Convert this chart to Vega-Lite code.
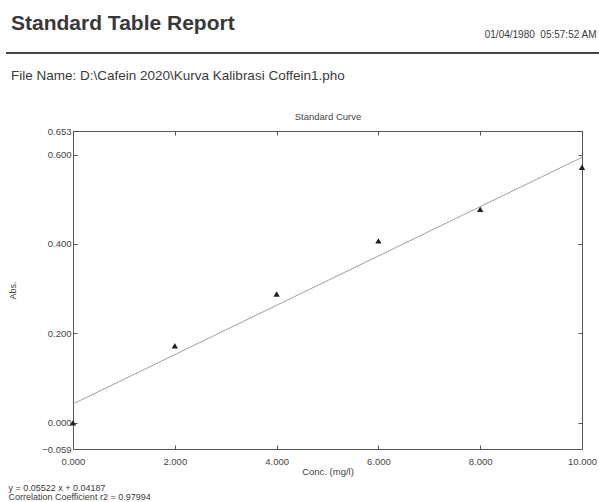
{
  "$schema": "https://vega.github.io/schema/vega-lite/v6.json",
  "width": 509,
  "height": 318,
  "autosize": {"type": "none"},
  "padding": {"left": 73, "top": 131, "right": 17, "bottom": 53},
  "background": "white",
  "config": {
    "font": "Liberation Sans",
    "view": {"stroke": null},
    "axis": {
      "grid": false,
      "labelFont": "Liberation Sans",
      "labelFontSize": 9.5,
      "labelColor": "#444444",
      "domainColor": "#555555",
      "tickColor": "#555555",
      "domainWidth": 1,
      "tickWidth": 1,
      "titleFont": "Liberation Sans",
      "titleFontWeight": "normal",
      "titleColor": "#444444",
      "titleFontSize": 9.5
    }
  },
  "title": {
    "text": "Standard Table Report",
    "subtitle": "File Name: D:\\Cafein 2020\\Kurva Kalibrasi Coffein1.pho",
    "anchor": "start",
    "frame": "bounds",
    "font": "Liberation Sans",
    "fontSize": 21,
    "fontWeight": "bold",
    "color": "#383838",
    "subtitleFont": "Liberation Sans",
    "subtitleFontSize": 13.5,
    "subtitleColor": "#3a3a3a",
    "subtitlePadding": 35,
    "offset": -53.5,
    "dx": 6
  },
  "datasets": {
    "standards": [
      {"conc": 0, "abs": 0.0},
      {"conc": 2, "abs": 0.172},
      {"conc": 4, "abs": 0.288},
      {"conc": 6, "abs": 0.407},
      {"conc": 8, "abs": 0.478},
      {"conc": 10, "abs": 0.572}
    ],
    "fit": [
      {"conc": 0, "abs": 0.04187},
      {"conc": 10, "abs": 0.59407}
    ],
    "separator": [{"line": "header"}]
  },
  "layer": [
    {
      "data": {"name": "standards"},
      "mark": {"type": "point", "shape": "triangle-up", "filled": true, "size": 40, "color": "#222222", "opacity": 1},
      "encoding": {
        "x": {
          "field": "conc", "type": "quantitative",
          "scale": {"domain": [0, 10], "nice": false, "zero": false},
          "axis": {"orient": "bottom", "values": [0, 2, 4, 6, 8, 10], "format": ".3f", "labelFlush": false, "tickSize": -4, "labelPadding": 11, "title": "Conc. (mg/l)", "titlePadding": 1}
        },
        "y": {
          "field": "abs", "type": "quantitative",
          "scale": {"domain": [-0.059, 0.653], "nice": false, "zero": false},
          "axis": {"orient": "left", "values": [-0.059, 0, 0.2, 0.4, 0.6, 0.653], "format": ".3f", "tickSize": -4, "labelPadding": 6, "title": "Abs.", "titleFontSize": 9, "titlePadding": 24}
        }
      }
    },
    {
      "data": {"name": "fit"},
      "mark": {"type": "line", "color": "#a0a0a0", "strokeWidth": 1},
      "encoding": {
        "x": {
          "field": "conc", "type": "quantitative",
          "scale": {"domain": [0, 10], "nice": false, "zero": false},
          "axis": {"orient": "top", "values": [0, 2, 4, 6, 8, 10], "labels": false, "tickSize": -4, "title": "Standard Curve", "titlePadding": 9}
        },
        "y": {
          "field": "abs", "type": "quantitative",
          "scale": {"domain": [-0.059, 0.653], "nice": false, "zero": false},
          "axis": {"orient": "right", "values": [-0.059, 0, 0.2, 0.4, 0.6, 0.653], "labels": false, "tickSize": -4, "title": "01/04/1980\u00a0\u00a005:57:52 AM", "titleAngle": 0, "titleAlign": "right", "titleBaseline": "alphabetic", "titleX": 14, "titleY": -94, "titleFontSize": 10, "titleColor": "#3a3a3a"}
        }
      }
    },
    {
      "data": {"name": "separator"},
      "mark": {"type": "rule", "color": "#444444", "strokeWidth": 2},
      "encoding": {
        "x": {
          "datum": -1.316, "type": "quantitative",
          "scale": {"domain": [0, 10], "nice": false, "zero": false},
          "axis": {"orient": "bottom", "domain": false, "ticks": false, "labels": false, "title": ["y = 0.05522 x + 0.04187", "Correlation Coefficient r2 = 0.97994"], "titleAlign": "left", "titleBaseline": "alphabetic", "titleX": -65, "titleY": 41, "titleLineHeight": 9.5, "titleFontSize": 9, "titleColor": "#3a3a3a"}
        },
        "x2": {"datum": 10.334},
        "y": {
          "datum": 0.8276, "type": "quantitative",
          "scale": {"domain": [-0.059, 0.653], "nice": false, "zero": false},
          "axis": null
        }
      }
    }
  ],
  "resolve": {"axis": {"x": "independent", "y": "independent"}}
}
